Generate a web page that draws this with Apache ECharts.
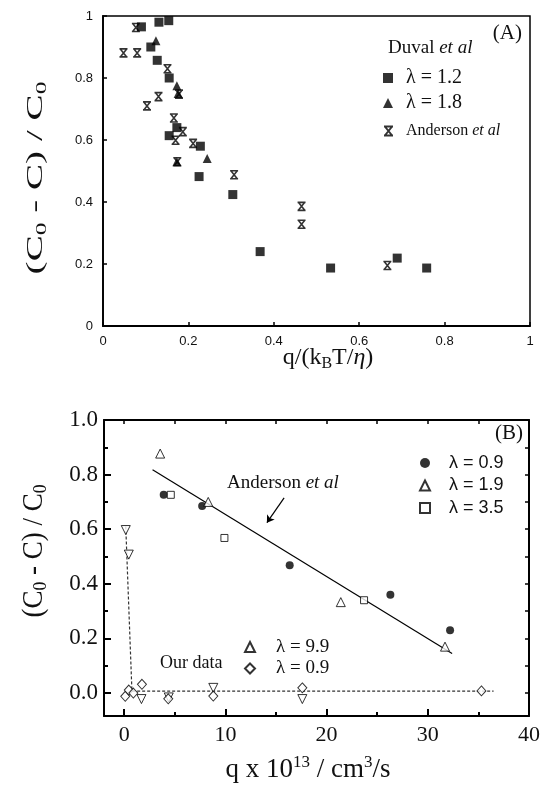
<!DOCTYPE html>
<html>
<head>
<meta charset="utf-8">
<script src="https://cdn.jsdelivr.net/npm/echarts@6/dist/echarts.min.js"></script>
<style>
html,body{margin:0;padding:0;background:#fff;}
#chart{width:543px;height:788px;}
</style>
</head>
<body>
<div id="chart"></div>
<script>
// ---------- Panel A data ----------
var aXTicks = [0, 0.2, 0.4, 0.6, 0.8, 1];
var aYTicks = [0, 0.2, 0.4, 0.6, 0.8, 1];
var duvalL12 = [[0.090,0.965],[0.131,0.980],[0.154,0.985],[0.112,0.900],[0.127,0.857],[0.155,0.800],[0.173,0.640],[0.155,0.614],[0.228,0.580],[0.225,0.482],[0.304,0.424],[0.368,0.240],[0.533,0.187],[0.689,0.219],[0.758,0.187]];
var duvalL18 = [[0.124,0.920],[0.173,0.775],[0.176,0.750],[0.244,0.540],[0.173,0.530]];
var andersonA = [[0.077,0.963],[0.048,0.881],[0.080,0.881],[0.151,0.830],[0.178,0.748],[0.130,0.740],[0.103,0.710],[0.166,0.671],[0.187,0.627],[0.170,0.599],[0.211,0.589],[0.174,0.530],[0.307,0.488],[0.465,0.386],[0.465,0.328],[0.666,0.195]];

// ---------- Panel B data ----------
var bXLabels = [0, 10, 20, 30, 40];
var bXMajor = [0, 10, 20, 30];
var bXMinor = [5, 15, 25, 35];
var bYLabels = [0, 0.2, 0.4, 0.6, 0.8, 1.0];
var bYMinor = [0.1, 0.3, 0.5, 0.7, 0.9];
var andL09 = [[3.9,0.726],[7.7,0.685],[16.35,0.468],[26.3,0.36],[32.2,0.23]];
var andL19 = [[3.55,0.877],[8.3,0.70],[21.4,0.333],[31.7,0.17]];
var andL35 = [[4.6,0.726],[9.9,0.568],[23.7,0.34]];
var ourL99 = [[0.15,0.597],[0.45,0.507],[1.7,-0.022],[4.4,-0.016],[8.8,0.019],[17.6,-0.022]];
var ourL09 = [[0.1,-0.012],[0.45,0.011],[0.9,0.0],[1.75,0.032],[4.35,-0.021],[8.8,-0.011],[17.6,0.019],[35.3,0.008]];
var andersonFit = [[2.8,0.818],[32.4,0.145]];
var ourFit = [[0.15,0.61],[0.76,0.007],[36.5,0.007]];
var arrowFrom = [15.8,0.715];
var arrowTo = [14.1,0.624];

var SERIF = '"Liberation Serif","Times New Roman",serif';
var SANS = '"Liberation Sans",Arial,sans-serif';
var STAR = 'path://M0,0L10,0M0,10L10,10M1,0L9,10M9,0L1,10';

var chart = echarts.init(document.getElementById('chart'), null, {renderer:'canvas'});

var option = {
  backgroundColor:'#fff',
  animation:false,
  grid:[
    {left:103, top:16, width:427, height:310, show:true, borderColor:'#000', borderWidth:1.5, backgroundColor:'transparent'},
    {left:104, top:420, width:426, height:296}
  ],
  xAxis:[
    {gridIndex:0, type:'value', min:0, max:1, interval:0.2, position:'bottom',
     axisLine:{onZero:false, lineStyle:{color:'#000', width:1.8}},
     axisTick:{inside:true, length:4, lineStyle:{color:'#000', width:1.5}},
     axisLabel:{color:'#111', fontFamily:SANS, fontSize:13, margin:9},
     splitLine:{show:false}},
    {gridIndex:1, type:'value', min:-2, max:40, position:'bottom',
     axisLine:{onZero:false, lineStyle:{color:'#000', width:2}},
     axisTick:{inside:true, length:7, customValues:bXMajor, lineStyle:{color:'#000', width:2}},
     axisLabel:{customValues:bXLabels, color:'#111', fontFamily:SERIF, fontSize:22, margin:8},
     splitLine:{show:false}},
    {gridIndex:1, type:'value', min:-2, max:40, position:'bottom',
     axisLine:{show:false, onZero:false},
     axisTick:{inside:true, length:4, customValues:bXMinor, lineStyle:{color:'#000', width:2}},
     axisLabel:{show:false}, splitLine:{show:false}},
    {gridIndex:1, type:'value', min:-2, max:40, position:'top',
     axisLine:{onZero:false, lineStyle:{color:'#000', width:2}},
     axisTick:{inside:true, length:4, customValues:bXMajor.concat(bXMinor), lineStyle:{color:'#000', width:1.5}},
     axisLabel:{show:false}, splitLine:{show:false}}
  ],
  yAxis:[
    {gridIndex:0, type:'value', min:0, max:1, interval:0.2, position:'left',
     axisLine:{show:true, onZero:false, lineStyle:{color:'#000', width:1.8}},
     axisTick:{show:true, inside:true, length:4, lineStyle:{color:'#000', width:1.5}},
     axisLabel:{color:'#111', fontFamily:SANS, fontSize:13, margin:10},
     splitLine:{show:false}},
    {gridIndex:1, type:'value', min:-0.084, max:1.0, position:'left',
     axisLine:{show:true, onZero:false, lineStyle:{color:'#000', width:2}},
     axisTick:{show:true, inside:true, length:7, customValues:bYLabels, lineStyle:{color:'#000', width:2}},
     axisLabel:{customValues:bYLabels, color:'#111', fontFamily:SERIF, fontSize:23, margin:6,
       formatter:function(v){return v.toFixed(1);}},
     splitLine:{show:false}},
    {gridIndex:1, type:'value', min:-0.084, max:1.0, position:'left',
     axisLine:{show:false, onZero:false},
     axisTick:{show:true, inside:true, length:4, customValues:bYMinor, lineStyle:{color:'#000', width:2}},
     axisLabel:{show:false}, splitLine:{show:false}},
    {gridIndex:1, type:'value', min:-0.084, max:1.0, position:'right',
     axisLine:{show:true, onZero:false, lineStyle:{color:'#000', width:2}},
     axisTick:{show:true, inside:true, length:4, customValues:bYLabels.concat(bYMinor), lineStyle:{color:'#000', width:1.5}},
     axisLabel:{show:false}, splitLine:{show:false}}
  ],
  legend:[
    {data:['λ = 1.2','λ = 1.8'], orient:'vertical', left:383, top:68, padding:0, itemGap:5,
     itemWidth:10, itemHeight:10,
     textStyle:{fontFamily:SERIF, fontSize:20, lineHeight:20, color:'#111', padding:[0,0,0,8]}},
    {data:['Anderson et al (A)'], orient:'vertical', left:383, top:123, padding:0,
     itemWidth:9, itemHeight:9,
     formatter:function(){return '{n|Anderson }{i|et al}';},
     textStyle:{fontFamily:SERIF, fontSize:16, color:'#111', padding:[0,0,0,8],
       rich:{n:{fontFamily:SERIF, fontSize:16, color:'#111'}, i:{fontFamily:SERIF, fontSize:16, fontStyle:'italic', color:'#111'}}}},
    {data:['λ = 0.9','λ = 1.9','λ = 3.5'], orient:'vertical', left:419, top:453, padding:0, itemGap:2.5,
     itemWidth:10, itemHeight:10,
     textStyle:{fontFamily:SANS, fontSize:18, lineHeight:20, color:'#111', padding:[0,0,0,14]}},
    {data:['λ = 9.9','λ = 0.9 (our data)'], orient:'vertical', left:244, top:637, padding:0, itemGap:1.5,
     itemWidth:10, itemHeight:10,
     formatter:function(n){return n.replace(' (our data)','');},
     textStyle:{fontFamily:SERIF, fontSize:19, lineHeight:20, color:'#111', padding:[0,0,0,16]}}
  ],
  series:[
    {name:'λ = 1.2', type:'scatter', xAxisIndex:0, yAxisIndex:0, data:duvalL12,
     symbol:'rect', symbolSize:9, itemStyle:{color:'#000'}},
    {name:'λ = 1.8', type:'scatter', xAxisIndex:0, yAxisIndex:0, data:duvalL18,
     symbol:'triangle', symbolSize:9, itemStyle:{color:'#000'}},
    {name:'Anderson et al (A)', type:'scatter', xAxisIndex:0, yAxisIndex:0, data:andersonA,
     symbol:STAR, symbolSize:8, itemStyle:{color:'rgba(0,0,0,0)', borderColor:'#000', borderWidth:1.6}},

    {name:'Anderson fit', type:'line', xAxisIndex:1, yAxisIndex:1, data:andersonFit,
     showSymbol:false, symbol:'none', lineStyle:{color:'#000', width:1.2}, z:1,
     markLine:{silent:true, symbol:['none','arrow'], symbolSize:7, label:{show:false},
       lineStyle:{color:'#000', width:1.2, type:'solid'},
       data:[[{coord:arrowFrom},{coord:arrowTo}]]}},
    {name:'Our fit', type:'line', xAxisIndex:1, yAxisIndex:1, data:ourFit,
     showSymbol:false, symbol:'none', lineStyle:{color:'#333', width:1.2, type:[3,2]}, z:1},
    {name:'λ = 0.9', type:'scatter', xAxisIndex:1, yAxisIndex:1, data:andL09,
     symbol:'circle', symbolSize:8, itemStyle:{color:'#000'}},
    {name:'λ = 1.9', type:'scatter', xAxisIndex:1, yAxisIndex:1, data:andL19,
     symbol:'triangle', symbolSize:9, itemStyle:{color:'#fff', borderColor:'#000', borderWidth:1}},
    {name:'λ = 3.5', type:'scatter', xAxisIndex:1, yAxisIndex:1, data:andL35,
     symbol:'rect', symbolSize:7, itemStyle:{color:'#fff', borderColor:'#000', borderWidth:1}},
    {name:'λ = 9.9', type:'scatter', xAxisIndex:1, yAxisIndex:1, data:ourL99,
     symbol:'triangle', symbolRotate:180, symbolSize:9, itemStyle:{color:'#fff', borderColor:'#000', borderWidth:1}},
    {name:'λ = 0.9 (our data)', type:'scatter', xAxisIndex:1, yAxisIndex:1, data:ourL09,
     symbol:'diamond', symbolSize:[9,10], itemStyle:{color:'#fff', borderColor:'#000', borderWidth:1}}
  ],
  graphic:[
    {type:'text', x:36, y:178, rotation:Math.PI/2, scaleX:1.7,
     style:{text:'(C{s|0} - C) / C{s|0}', font:'23px '+SERIF, fill:'#111', align:'center', verticalAlign:'middle',
       rich:{s:{fontFamily:SERIF, fontSize:15, fill:'#111', padding:[12,0,0,0]}}}},
    {type:'text', x:328, y:358,
     style:{text:'q/(k{s|B}T/{i|η})', font:'24px '+SERIF, fill:'#111', align:'center', verticalAlign:'middle',
       rich:{s:{fontFamily:SERIF, fontSize:16, fill:'#111', padding:[12,0,0,0]}, i:{fontFamily:SERIF, fontSize:24, fontStyle:'italic', fill:'#111'}}}},
    {type:'text', x:388, y:48,
     style:{text:'Duval {i|et al}', font:'19px '+SERIF, fill:'#111', align:'left', verticalAlign:'middle',
       rich:{i:{fontFamily:SERIF, fontSize:19, fontStyle:'italic', fill:'#111'}}}},
    {type:'text', x:522, y:33,
     style:{text:'(A)', font:'21px '+SERIF, fill:'#111', align:'right', verticalAlign:'middle'}},

    {type:'text', x:34, y:551, rotation:Math.PI/2, scaleX:0.93,
     style:{text:'(C{s|0} - C) / C{s|0}', font:'29px '+SERIF, fill:'#111', align:'center', verticalAlign:'middle',
       rich:{s:{fontFamily:SERIF, fontSize:19, fill:'#111', padding:[15,0,0,0]}}}},
    {type:'text', x:308, y:770,
     style:{text:'q x 10{p|13} / cm{p|3}/s', font:'27px '+SERIF, fill:'#111', align:'center', verticalAlign:'middle',
       rich:{p:{fontFamily:SERIF, fontSize:17, fill:'#111', padding:[0,0,14,0]}}}},
    {type:'text', x:523, y:433,
     style:{text:'(B)', font:'21px '+SERIF, fill:'#111', align:'right', verticalAlign:'middle'}},
    {type:'text', x:227, y:483,
     style:{text:'Anderson {i|et al}', font:'19px '+SERIF, fill:'#111', align:'left', verticalAlign:'middle',
       rich:{i:{fontFamily:SERIF, fontSize:19, fontStyle:'italic', fill:'#111'}}}},
    {type:'text', x:160, y:663,
     style:{text:'Our data', font:'18px '+SERIF, fill:'#111', align:'left', verticalAlign:'middle'}}
  ]
};
chart.setOption(option);
</script>
</body>
</html>
